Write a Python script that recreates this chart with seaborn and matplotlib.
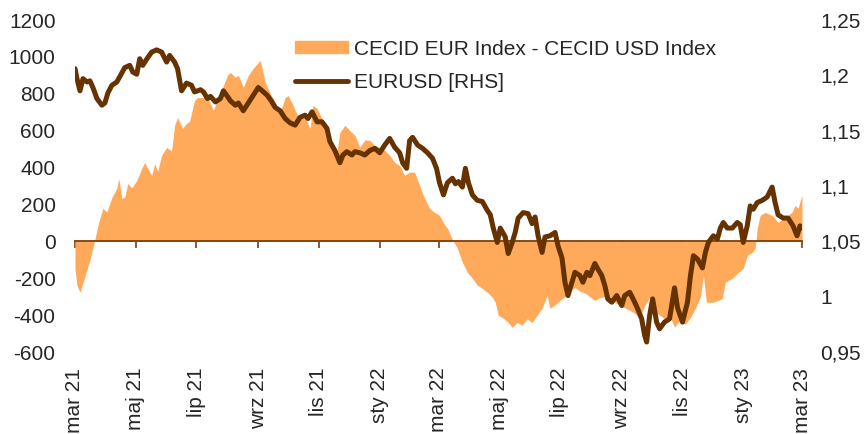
import matplotlib
matplotlib.use("Agg")
import matplotlib.pyplot as plt
import matplotlib.ticker as mticker
import matplotlib.lines as mlines
import matplotlib.patches as mpatches
import seaborn as sns
import pandas as pd

# ---------------- data ----------------
spread_dates = [
    "2021-03-01","2021-03-03","2021-03-06","2021-03-11","2021-03-16","2021-03-21","2021-03-24","2021-03-29",
    "2021-04-02","2021-04-07","2021-04-12","2021-04-14","2021-04-17","2021-04-20","2021-04-23","2021-04-27",
    "2021-05-02","2021-05-07","2021-05-10","2021-05-13","2021-05-17","2021-05-20","2021-05-23","2021-05-27",
    "2021-06-01","2021-06-06","2021-06-09","2021-06-12","2021-06-17","2021-06-21","2021-06-24","2021-06-29",
    "2021-07-02","2021-07-08","2021-07-13","2021-07-18","2021-07-23","2021-07-28","2021-08-01","2021-08-04",
    "2021-08-09","2021-08-12","2021-08-17","2021-08-22","2021-08-27","2021-09-03","2021-09-08","2021-09-13",
    "2021-09-18","2021-09-23","2021-09-28","2021-10-01","2021-10-05","2021-10-08","2021-10-13","2021-10-18",
    "2021-10-23","2021-10-26","2021-10-30","2021-11-04","2021-11-09","2021-11-14","2021-11-19","2021-11-22",
    "2021-11-27","2021-12-02","2021-12-07","2021-12-12","2021-12-17","2021-12-22","2021-12-27","2022-01-01",
    "2022-01-06","2022-01-11","2022-01-16","2022-01-21","2022-01-26","2022-01-31","2022-02-05","2022-02-10",
    "2022-02-15","2022-02-20","2022-02-25","2022-03-02","2022-03-06","2022-03-10","2022-03-15","2022-03-20",
    "2022-03-25","2022-03-30","2022-04-04","2022-04-09","2022-04-14","2022-04-19","2022-04-24","2022-04-27",
    "2022-04-30","2022-05-05","2022-05-10","2022-05-14","2022-05-19","2022-05-24","2022-05-29","2022-06-03",
    "2022-06-08","2022-06-13","2022-06-18","2022-06-21","2022-06-26","2022-07-01","2022-07-06","2022-07-11",
    "2022-07-16","2022-07-21","2022-07-26","2022-07-31","2022-08-05","2022-08-10","2022-08-15","2022-08-20",
    "2022-08-25","2022-08-30","2022-09-04","2022-09-09","2022-09-14","2022-09-19","2022-09-24","2022-09-29",
    "2022-10-04","2022-10-09","2022-10-14","2022-10-19","2022-10-24","2022-10-29","2022-11-04","2022-11-09",
    "2022-11-14","2022-11-19","2022-11-22","2022-11-25","2022-12-01","2022-12-07","2022-12-11","2022-12-14",
    "2022-12-21","2022-12-27","2023-01-01","2023-01-05","2023-01-10","2023-01-13","2023-01-15","2023-01-18",
    "2023-01-23","2023-01-30","2023-02-05","2023-02-12","2023-02-19","2023-02-22","2023-02-25","2023-03-01",
]
spread_values = [
    -150, -240, -276, -190, -100, 10, 87, 179,
    160, 238, 287, 341, 233, 240, 314, 290,
    330, 395, 428, 395, 358, 420, 380, 466,
    509, 490, 629, 672, 612, 640, 650, 764,
    780, 780, 770, 710, 780, 845, 900, 916,
    890, 900, 835, 900, 938, 981, 862, 802,
    753, 699, 780, 790, 750, 710, 660, 672,
    612, 737, 720, 667, 612, 537, 482, 591,
    629, 600, 575, 510, 550, 547, 520, 510,
    493, 466, 428, 410, 358, 375, 375, 303,
    233, 179, 157, 141, 100, 70, 10, -38,
    -114, -168, -200, -238, -255, -276, -303, -330,
    -401, -417, -440, -466, -440, -455, -420, -440,
    -401, -363, -293, -363, -345, -320, -300, -270,
    -250, -270, -280, -300, -320, -305, -300, -320,
    -330, -350, -360, -374, -390, -412, -350, -303,
    -380, -400, -420, -401, -466, -430, -450, -412,
    -363, -300, -184, -330, -331, -320, -309, -222,
    -200, -168, -146, -76, -60, -38, 70, 141,
    157, 141, 103, 130, 157, 195, 180, 250,
]

eurusd_dates = [
    "2021-03-01","2021-03-03","2021-03-06","2021-03-09","2021-03-13","2021-03-16","2021-03-19","2021-03-23",
    "2021-03-28","2021-03-31","2021-04-03","2021-04-07","2021-04-12","2021-04-17","2021-04-20","2021-04-25",
    "2021-04-28","2021-05-02","2021-05-05","2021-05-08","2021-05-13","2021-05-17","2021-05-22","2021-05-27",
    "2021-06-01","2021-06-04","2021-06-09","2021-06-12","2021-06-16","2021-06-21","2021-06-26","2021-06-29",
    "2021-07-05","2021-07-08","2021-07-12","2021-07-15","2021-07-20","2021-07-25","2021-07-28","2021-08-01",
    "2021-08-04","2021-08-09","2021-08-12","2021-08-17","2021-08-22","2021-08-27","2021-09-01","2021-09-05",
    "2021-09-10","2021-09-14","2021-09-18","2021-09-23","2021-09-28","2021-10-03","2021-10-08","2021-10-13",
    "2021-10-18","2021-10-21","2021-10-25","2021-10-30","2021-11-04","2021-11-09","2021-11-12","2021-11-17",
    "2021-11-22","2021-11-25","2021-11-29","2021-12-04","2021-12-07","2021-12-12","2021-12-17","2021-12-22",
    "2021-12-27","2022-01-01","2022-01-06","2022-01-11","2022-01-16","2022-01-21","2022-01-24","2022-01-28",
    "2022-01-31","2022-02-03","2022-02-08","2022-02-13","2022-02-18","2022-02-23","2022-02-27","2022-03-02",
    "2022-03-06","2022-03-10","2022-03-15","2022-03-18","2022-03-21","2022-03-25","2022-03-28","2022-03-31",
    "2022-04-04","2022-04-09","2022-04-14","2022-04-19","2022-04-22","2022-04-25","2022-04-29","2022-05-02",
    "2022-05-07","2022-05-10","2022-05-14","2022-05-17","2022-05-20","2022-05-25","2022-05-30","2022-06-03",
    "2022-06-06","2022-06-09","2022-06-13","2022-06-16","2022-06-21","2022-06-26","2022-06-29","2022-07-03",
    "2022-07-06","2022-07-09","2022-07-13","2022-07-16","2022-07-21","2022-07-24","2022-07-28","2022-07-31",
    "2022-08-05","2022-08-08","2022-08-12","2022-08-15","2022-08-18","2022-08-22","2022-08-27","2022-09-01",
    "2022-09-04","2022-09-09","2022-09-14","2022-09-17","2022-09-21","2022-09-24","2022-09-26","2022-09-29",
    "2022-10-02","2022-10-06","2022-10-09","2022-10-14","2022-10-19","2022-10-24","2022-10-27","2022-11-01",
    "2022-11-06","2022-11-09","2022-11-12","2022-11-16","2022-11-21","2022-11-24","2022-11-27","2022-12-02",
    "2022-12-06","2022-12-09","2022-12-12","2022-12-16","2022-12-21","2022-12-26","2022-12-29","2023-01-01",
    "2023-01-05","2023-01-08","2023-01-11","2023-01-15","2023-01-20","2023-01-25","2023-01-30","2023-02-02",
    "2023-02-05","2023-02-10","2023-02-15","2023-02-20","2023-02-24","2023-02-27","2023-03-01",
]
eurusd_values = [
    1.206, 1.197, 1.186, 1.197, 1.194, 1.195, 1.189, 1.179,
    1.173, 1.175, 1.184, 1.191, 1.194, 1.202, 1.207, 1.209,
    1.203, 1.201, 1.215, 1.209, 1.216, 1.221, 1.223, 1.221,
    1.212, 1.218, 1.212, 1.206, 1.186, 1.193, 1.191, 1.185,
    1.187, 1.185, 1.179, 1.181, 1.176, 1.179, 1.186, 1.181,
    1.177, 1.173, 1.175, 1.168, 1.175, 1.182, 1.189, 1.186,
    1.182, 1.177, 1.171, 1.168, 1.161, 1.157, 1.155, 1.162,
    1.164, 1.161, 1.167, 1.158, 1.158, 1.152, 1.140, 1.132,
    1.121, 1.128, 1.131, 1.128, 1.131, 1.130, 1.128, 1.132,
    1.134, 1.130, 1.137, 1.143, 1.135, 1.130, 1.121, 1.116,
    1.141, 1.144, 1.137, 1.134, 1.130, 1.125, 1.116, 1.103,
    1.092, 1.103, 1.107, 1.102, 1.104, 1.099, 1.116, 1.103,
    1.092, 1.087, 1.086, 1.078, 1.074, 1.062, 1.049, 1.062,
    1.054, 1.039, 1.049, 1.058, 1.071, 1.076, 1.075, 1.066,
    1.072, 1.055, 1.040, 1.054, 1.055, 1.058, 1.046, 1.035,
    1.013, 1.001, 1.013, 1.022, 1.019, 1.013, 1.022, 1.019,
    1.030, 1.025, 1.019, 1.010, 0.998, 0.995, 1.001, 0.992,
    1.001, 1.004, 0.995, 0.989, 0.980, 0.965, 0.959, 0.983,
    0.998, 0.977, 0.971, 0.977, 0.980, 1.008, 0.990, 0.977,
    0.995, 1.019, 1.037, 1.034, 1.026, 1.040, 1.049, 1.055,
    1.052, 1.062, 1.067, 1.062, 1.062, 1.067, 1.065, 1.049,
    1.064, 1.082, 1.079, 1.085, 1.087, 1.090, 1.099, 1.085,
    1.074, 1.071, 1.071, 1.064, 1.055, 1.064, 1.062,
]

tick_dates = ["2021-03-01","2021-05-01","2021-07-01","2021-09-01","2021-11-01","2022-01-01","2022-03-01",
              "2022-05-01","2022-07-01","2022-09-01","2022-11-01","2023-01-01","2023-03-01"]
tick_labels = ["mar 21","maj 21","lip 21","wrz 21","lis 21","sty 22","mar 22",
               "maj 22","lip 22","wrz 22","lis 22","sty 23","mar 23"]
left_ticks = [-600, -400, -200, 0, 200, 400, 600, 800, 1000, 1200]
right_ticks = [0.95, 1.0, 1.05, 1.1, 1.15, 1.2, 1.25]

spread_label = "CECID EUR Index - CECID USD Index"
eurusd_label = "EURUSD [RHS]"

# ---------------- style ----------------
sns.set_theme(style="white")
plt.rcParams["font.family"] = ["Liberation Sans", "DejaVu Sans"]
plt.rcParams["axes.unicode_minus"] = False

AREA_C = "#FFA95B"
LINE_C = "#653200"
AXIS_C = "#7A3D0A"
TEXT_C = "#262626"
FS = 15

df_spread = pd.DataFrame({"date": pd.to_datetime(spread_dates), "value": spread_values})
df_eur = pd.DataFrame({"date": pd.to_datetime(eurusd_dates), "value": eurusd_values})

fig = plt.figure(figsize=(8.66, 4.34), dpi=100)
ax1 = fig.add_axes([75 / 866, 1 - 352 / 434, 727 / 866, 332 / 434])

ax1.fill_between(df_spread["date"], 0, df_spread["value"], color=AREA_C, linewidth=0, zorder=1)
ax1.set_ylim(-600, 1200)
ax1.set_xlim(pd.Timestamp("2021-03-01"), pd.Timestamp("2023-03-01"))
ax1.set_yticks(left_ticks)
ax1.yaxis.set_major_formatter(mticker.FuncFormatter(lambda v, p: f"{int(v)}"))
ax1.tick_params(axis="y", length=0, pad=14, labelsize=FS, labelcolor=TEXT_C)

for s in ["top", "left", "right"]:
    ax1.spines[s].set_visible(False)
ax1.spines["bottom"].set_position(("data", 0))
ax1.spines["bottom"].set_color(AXIS_C)
ax1.spines["bottom"].set_linewidth(1.3)
ax1.spines["bottom"].set_zorder(2)
ax1.set_xticks(pd.to_datetime(tick_dates))
ax1.set_xticklabels(tick_labels, rotation=90, va="top", ha="center")
ax1.tick_params(axis="x", direction="out", length=5, width=1.2, color=AXIS_C,
                pad=86, labelsize=FS, labelcolor=TEXT_C, bottom=True)
ax1.set_xlabel("")
ax1.set_ylabel("")

ax2 = ax1.twinx()
sns.lineplot(data=df_eur, x="date", y="value", ax=ax2, color=LINE_C, linewidth=3.6, zorder=3)
ax2.set_ylim(0.95, 1.25)
ax2.set_yticks(right_ticks)
ax2.yaxis.set_major_formatter(mticker.FuncFormatter(lambda v, p: f"{round(v, 2):g}".replace(".", ",")))
ax2.tick_params(axis="y", length=0, pad=13, labelsize=FS, labelcolor=TEXT_C)
for s in ["top", "left", "right", "bottom"]:
    ax2.spines[s].set_visible(False)
ax2.set_ylabel("")
ax2.set_xlabel("")

handles = [mpatches.Patch(color=AREA_C, label=spread_label),
           mlines.Line2D([], [], color=LINE_C, linewidth=3.5, label=eurusd_label)]
ax2.legend(handles=handles, loc="upper left", bbox_to_anchor=(0.283, 0.985), frameon=False,
           fontsize=FS, handlelength=2.55, handleheight=0.5, handletextpad=0.25, labelspacing=0.7,
           borderaxespad=0.3, labelcolor=TEXT_C)

fig.savefig("out.png", dpi=100)
